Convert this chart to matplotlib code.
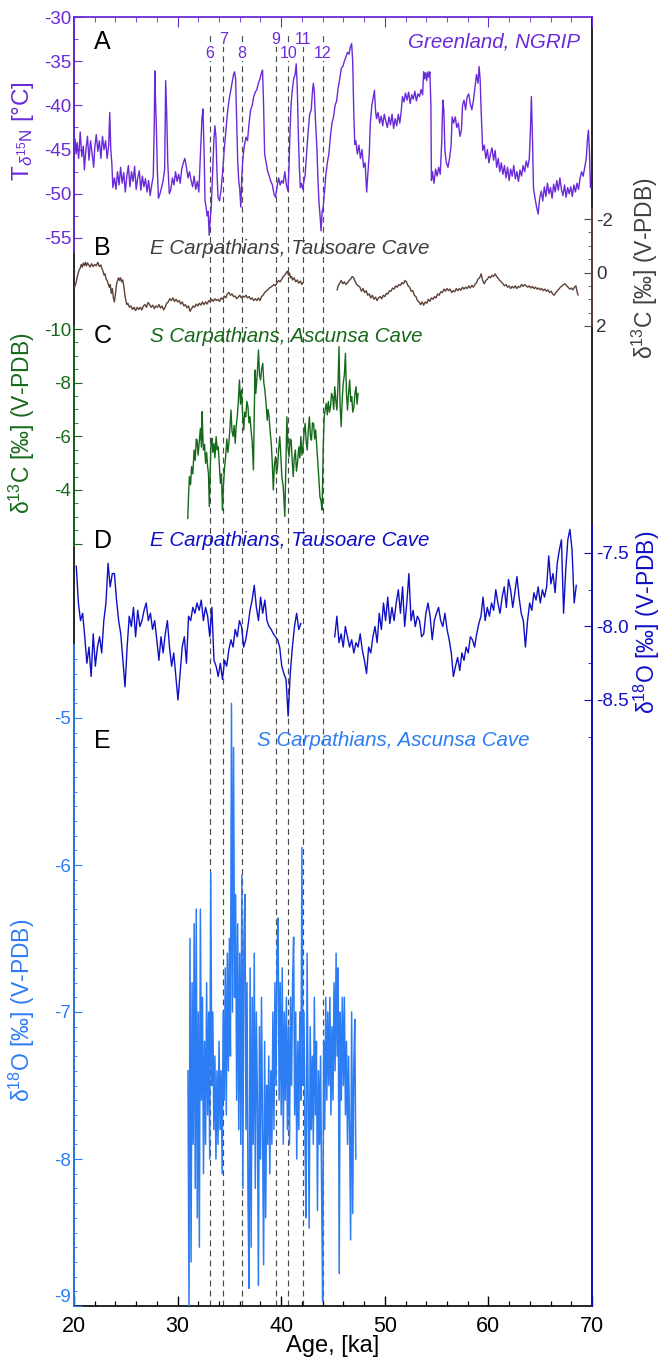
import matplotlib
matplotlib.use('Agg')
import matplotlib.pyplot as plt
from matplotlib.ticker import FixedLocator, MultipleLocator
import numpy as np

plt.rcParams['font.family'] = ['Liberation Sans', 'DejaVu Sans']
plt.rcParams['mathtext.fontset'] = 'custom'
plt.rcParams['mathtext.rm'] = 'Liberation Sans'
plt.rcParams['mathtext.it'] = 'Liberation Sans:italic'
plt.rcParams['axes.unicode_minus'] = False

# ---------------- DATA ----------------
# A: NGRIP temperature (age ka, T degC)
NGRIP = [
 (20.0,-44.5),(20.1,-43.8),(20.2,-45.5),(20.3,-44.2),(20.45,-46.0),(20.6,-43.0),(20.75,-45.8),(20.9,-44.6),
 (21.0,-47.3),(21.15,-45.0),(21.3,-43.5),(21.45,-46.2),(21.6,-44.0),(21.75,-45.5),(21.9,-47.0),(22.0,-44.8),
 (22.15,-43.3),(22.3,-45.2),(22.45,-44.0),(22.6,-46.0),(22.75,-43.5),(22.9,-45.0),(23.05,-44.0),(23.2,-46.0),
 (23.35,-44.5),(23.45,-40.8),(23.55,-45.0),(23.65,-46.5),(23.75,-49.3),(23.9,-48.2),(24.05,-49.5),(24.2,-47.5),
 (24.35,-49.0),(24.5,-47.0),(24.65,-48.8),(24.8,-47.6),(24.95,-49.8),(25.1,-48.0),(25.25,-46.8),(25.4,-49.2),
 (25.55,-47.5),(25.7,-48.6),(25.85,-46.9),(26.0,-49.5),(26.15,-48.2),(26.3,-47.4),(26.45,-49.6),(26.6,-48.0),
 (26.75,-49.2),(26.9,-48.3),(27.05,-49.8),(27.2,-48.5),(27.35,-50.2),(27.5,-49.0),(27.65,-48.0),(27.75,-42.0),
 (27.8,-36.1),(27.85,-38.5),(27.95,-42.5),(28.05,-47.5),(28.15,-50.5),(28.3,-50.0),(28.45,-49.3),(28.6,-48.5),
 (28.75,-47.2),(28.85,-37.2),(28.95,-41.0),(29.05,-46.5),(29.2,-50.0),(29.35,-49.5),(29.5,-48.2),(29.65,-49.0),
 (29.8,-47.5),(29.95,-48.6),(30.1,-47.8),(30.25,-48.8),(30.4,-47.2),(30.55,-46.5),(30.7,-46.0),(30.85,-47.0),
 (31.0,-48.2),(31.15,-47.5),(31.3,-48.5),(31.45,-49.2),(31.6,-48.0),(31.75,-49.5),(31.9,-48.6),(32.05,-49.8),
 (32.15,-47.0),(32.25,-44.0),(32.35,-41.5),(32.45,-40.4),(32.55,-45.0),(32.65,-50.8),(32.75,-51.5),(32.85,-52.5),
 (32.95,-52.0),(33.05,-54.7),(33.15,-52.8),(33.25,-51.5),(33.4,-47.0),(33.5,-44.0),(33.6,-42.3),(33.7,-43.5),
 (33.8,-47.5),(33.9,-50.4),(34.05,-50.8),(34.2,-49.5),(34.35,-47.5),(34.5,-45.0),(34.65,-43.0),(34.8,-41.0),
 (34.95,-39.5),(35.1,-38.5),(35.25,-37.5),(35.4,-36.5),(35.5,-36.2),(35.6,-37.0),(35.7,-41.5),(35.8,-46.3),
 (35.9,-48.5),(36.0,-49.5),(36.1,-51.5),(36.2,-48.0),(36.3,-46.0),(36.45,-44.5),(36.6,-43.6),(36.75,-44.0),
 (36.9,-42.0),(37.05,-40.5),(37.2,-40.0),(37.35,-39.0),(37.5,-38.5),(37.65,-38.2),(37.8,-37.5),(37.95,-37.0),
 (38.1,-36.3),(38.2,-36.0),(38.3,-40.0),(38.4,-45.5),(38.55,-46.5),(38.7,-47.5),(38.85,-48.0),(39.0,-48.6),
 (39.15,-49.0),(39.3,-50.0),(39.45,-50.4),(39.6,-49.2),(39.75,-48.2),(39.9,-49.0),(40.05,-48.5),(40.2,-48.8),
 (40.35,-47.5),(40.5,-49.0),(40.65,-49.7),(40.75,-47.0),(40.85,-43.0),(40.95,-40.0),(41.05,-38.5),(41.2,-37.0),
 (41.35,-36.5),(41.45,-35.3),(41.55,-38.0),(41.65,-43.0),(41.75,-47.0),(41.85,-49.3),(41.95,-48.8),(42.1,-49.5),
 (42.2,-48.5),(42.3,-48.0),(42.45,-45.5),(42.6,-43.0),(42.75,-41.0),(42.9,-40.5),(43.0,-38.7),(43.1,-37.5),
 (43.2,-38.5),(43.3,-41.5),(43.45,-45.0),(43.55,-48.5),(43.65,-51.0),(43.75,-52.5),(43.85,-54.2),(43.95,-52.0),
 (44.05,-51.5),(44.2,-49.5),(44.3,-48.0),(44.45,-46.5),(44.6,-45.5),(44.75,-43.5),(44.9,-42.0),(45.05,-41.3),
 (45.2,-40.0),(45.35,-39.5),(45.5,-38.0),(45.65,-37.0),(45.8,-35.8),(45.95,-35.6),(46.1,-35.0),(46.25,-34.5),
 (46.4,-34.0),(46.55,-34.2),(46.65,-33.5),(46.8,-33.0),(46.9,-35.0),(47.0,-40.5),(47.1,-44.4),(47.2,-44.0),
 (47.35,-45.5),(47.5,-44.5),(47.65,-46.0),(47.8,-45.0),(47.95,-47.0),(48.1,-46.5),(48.25,-49.8),(48.35,-48.0),
 (48.5,-45.5),(48.6,-42.1),(48.75,-40.0),(49.0,-38.3),(49.1,-40.5),(49.2,-41.5),(49.35,-40.8),(49.5,-42.0),
 (49.65,-41.2),(49.8,-42.3),(49.95,-41.0),(50.1,-41.8),(50.25,-42.5),(50.4,-41.3),(50.55,-42.2),(50.7,-41.0),
 (50.85,-42.6),(51.0,-41.5),(51.15,-42.3),(51.3,-41.0),(51.45,-42.0),(51.6,-40.5),(51.7,-39.0),(51.85,-39.6),
 (52.0,-38.6),(52.15,-39.4),(52.3,-38.5),(52.45,-39.8),(52.6,-38.8),(52.75,-39.3),(52.9,-38.4),(53.05,-39.5),
 (53.2,-38.7),(53.35,-39.0),(53.5,-38.2),(53.65,-38.8),(53.75,-36.2),(53.85,-37.0),(53.95,-36.3),(54.05,-37.2),
 (54.15,-36.2),(54.25,-36.8),(54.35,-36.2),(54.45,-40.0),(54.5,-48.5),(54.6,-47.5),(54.75,-48.8),(54.9,-47.2),
 (55.05,-48.0),(55.2,-47.0),(55.35,-47.8),(55.5,-44.0),(55.6,-39.4),(55.7,-40.5),(55.8,-45.1),(55.95,-46.5),
 (56.1,-47.0),(56.25,-46.0),(56.4,-44.5),(56.5,-41.3),(56.65,-42.0),(56.8,-41.3),(56.95,-42.5),(57.1,-42.0),
 (57.25,-43.5),(57.4,-42.8),(57.5,-40.0),(57.65,-39.4),(57.8,-40.5),(57.95,-39.0),(58.1,-38.7),(58.25,-39.8),
 (58.4,-40.5),(58.55,-39.5),(58.7,-38.0),(58.85,-36.5),(59.0,-37.5),(59.1,-35.6),(59.2,-37.0),(59.3,-40.6),
 (59.45,-45.1),(59.6,-44.5),(59.75,-46.0),(59.9,-45.0),(60.05,-46.5),(60.2,-45.5),(60.35,-44.8),(60.5,-46.2),
 (60.65,-45.1),(60.8,-47.0),(60.95,-46.0),(61.1,-47.5),(61.25,-46.5),(61.4,-47.8),(61.55,-46.8),(61.7,-48.2),
 (61.85,-47.0),(62.0,-48.5),(62.15,-47.2),(62.3,-48.0),(62.45,-46.8),(62.6,-48.3),(62.75,-47.5),(62.9,-48.6),
 (63.05,-47.3),(63.2,-48.0),(63.35,-46.8),(63.5,-47.5),(63.65,-46.3),(63.8,-47.0),(63.95,-46.0),(64.05,-43.0),
 (64.15,-39.0),(64.25,-43.5),(64.35,-49.3),(64.5,-50.5),(64.65,-51.5),(64.8,-52.3),(64.95,-50.5),(65.1,-49.7),
 (65.25,-50.8),(65.4,-49.2),(65.55,-50.3),(65.7,-48.8),(65.85,-50.0),(66.0,-49.3),(66.15,-50.5),(66.3,-48.9),
 (66.45,-49.8),(66.6,-48.5),(66.75,-49.6),(66.9,-48.2),(67.05,-49.5),(67.2,-50.2),(67.35,-49.0),(67.5,-50.4),
 (67.65,-49.3),(67.8,-50.0),(67.95,-49.2),(68.1,-50.3),(68.25,-49.0),(68.4,-49.8),(68.55,-48.8),(68.7,-49.5),
 (68.85,-48.2),(69.0,-47.5),(69.15,-48.0),(69.3,-47.0),(69.45,-46.0),(69.55,-44.0),(69.65,-42.8),(69.75,-45.0),
 (69.85,-49.3),(70.0,-49.3),
]

# B: Tausoare Cave d13C (two segments)
TAU_C13_SEG1 = [
 (20.0,0.6),(20.1,0.5),(20.2,0.38),(20.35,0.1),(20.5,-0.1),(20.6,-0.16),(20.7,-0.3),(20.8,-0.2),(20.9,-0.35),
 (21.0,-0.26),(21.1,-0.38),(21.2,-0.25),(21.3,-0.36),(21.4,-0.3),(21.55,-0.2),(21.7,-0.33),(21.85,-0.22),
 (22.0,-0.3),(22.15,-0.25),(22.3,-0.38),(22.45,-0.22),(22.6,-0.28),(22.7,-0.14),(22.8,-0.05),(22.9,0.1),
 (23.0,0.05),(23.1,0.25),(23.2,0.3),(23.3,0.42),(23.4,0.55),(23.5,0.45),(23.6,0.78),(23.7,0.6),(23.8,0.95),
 (23.9,1.1),(24.0,0.8),(24.1,0.45),(24.2,0.3),(24.3,0.2),(24.4,0.3),(24.5,0.2),(24.6,0.35),(24.7,0.28),
 (24.8,0.5),(24.9,0.8),(25.0,1.05),(25.1,1.2),(25.2,1.15),(25.35,1.3),(25.5,1.25),(25.65,1.38),(25.8,1.3),
 (25.95,1.42),(26.1,1.3),(26.25,1.38),(26.4,1.3),(26.55,1.4),(26.7,1.25),(26.85,1.2),(27.0,1.3),(27.15,1.12),
 (27.3,1.2),(27.45,1.3),(27.6,1.22),(27.75,1.35),(27.9,1.25),(28.05,1.3),(28.2,1.2),(28.35,1.33),(28.5,1.25),
 (28.65,1.4),(28.8,1.3),(28.95,1.15),(29.1,1.1),(29.25,0.98),(29.4,1.05),(29.55,0.95),(29.7,1.08),(29.85,1.0),
 (30.0,1.1),(30.15,1.05),(30.3,1.18),(30.45,1.1),(30.6,1.25),(30.75,1.2),(30.9,1.32),(31.05,1.25),(31.2,1.45),
 (31.35,1.35),(31.5,1.25),(31.65,1.3),(31.8,1.18),(31.95,1.25),(32.1,1.15),(32.25,1.22),(32.4,1.1),(32.55,1.2),
 (32.7,1.1),(32.85,1.18),(33.0,1.05),(33.15,1.1),(33.3,1.0),(33.45,1.08),(33.6,0.98),(33.75,1.05),(33.9,1.0),
 (34.05,1.08),(34.2,0.95),(34.35,1.0),(34.5,0.88),(34.65,0.95),(34.8,0.8),(34.95,0.75),(35.1,0.85),(35.25,0.8),
 (35.4,0.9),(35.55,0.88),(35.7,0.98),(35.85,0.92),(36.0,0.85),(36.15,0.95),(36.3,0.88),(36.45,0.92),(36.6,0.85),
 (36.75,0.95),(36.9,0.9),(37.05,1.0),(37.2,0.95),(37.35,1.05),(37.5,0.98),(37.65,1.05),(37.8,0.95),(37.95,1.05),
 (38.1,0.9),(38.25,0.85),(38.4,0.75),(38.55,0.7),(38.7,0.65),(38.85,0.58),(39.0,0.55),(39.15,0.5),(39.3,0.45),
 (39.45,0.5),(39.6,0.38),(39.75,0.3),(39.9,0.35),(40.05,0.25),(40.2,0.15),(40.35,0.1),(40.5,0.0),(40.6,-0.05),
 (40.7,0.1),(40.8,0.02),(40.9,0.2),(41.0,0.15),(41.1,0.28),(41.25,0.2),(41.4,0.35),(41.55,0.28),(41.7,0.4),
 (41.85,0.32),(42.0,0.45),(42.1,0.38),
]
TAU_C13_SEG2 = [
 (45.4,0.65),(45.5,0.5),(45.65,0.4),(45.8,0.3),(45.95,0.42),(46.1,0.35),(46.25,0.45),(46.4,0.38),(46.55,0.3),
 (46.7,0.25),(46.85,0.15),(47.0,0.2),(47.15,0.35),(47.3,0.45),(47.45,0.5),(47.6,0.55),(47.75,0.7),(47.9,0.6),
 (48.05,0.75),(48.2,0.68),(48.35,0.85),(48.5,0.8),(48.65,0.95),(48.8,0.85),(48.95,1.0),(49.1,0.92),(49.25,1.05),
 (49.4,0.95),(49.55,0.9),(49.7,0.98),(49.85,0.85),(50.0,0.9),(50.15,0.78),(50.3,0.8),(50.45,0.68),(50.6,0.7),
 (50.75,0.58),(50.9,0.62),(51.05,0.5),(51.2,0.55),(51.35,0.45),(51.5,0.48),(51.65,0.38),(51.8,0.42),(51.95,0.3),
 (52.1,0.36),(52.25,0.5),(52.4,0.55),(52.55,0.7),(52.7,0.68),(52.85,0.85),(53.0,0.9),(53.15,1.05),(53.3,1.1),
 (53.45,1.2),(53.6,1.1),(53.75,1.22),(53.9,1.1),(54.05,1.15),(54.2,1.0),(54.35,1.08),(54.5,0.95),(54.65,1.0),
 (54.8,0.9),(54.95,0.95),(55.1,0.8),(55.25,0.85),(55.4,0.72),(55.55,0.75),(55.7,0.62),(55.85,0.7),(56.0,0.6),
 (56.15,0.68),(56.3,0.62),(56.45,0.75),(56.6,0.68),(56.75,0.72),(56.9,0.6),(57.05,0.68),(57.2,0.6),(57.35,0.66),
 (57.5,0.55),(57.65,0.62),(57.8,0.55),(57.95,0.6),(58.1,0.5),(58.25,0.58),(58.4,0.48),(58.55,0.55),(58.7,0.45),
 (58.85,0.38),(59.0,0.25),(59.15,0.2),(59.3,0.05),(59.45,0.3),(59.6,0.42),(59.75,0.3),(59.9,0.25),(60.05,0.15),
 (60.2,0.2),(60.35,0.1),(60.5,0.15),(60.65,0.05),(60.8,0.15),(60.95,0.22),(61.1,0.3),(61.25,0.35),(61.4,0.42),
 (61.55,0.5),(61.7,0.45),(61.85,0.55),(62.0,0.5),(62.15,0.6),(62.3,0.52),(62.45,0.58),(62.6,0.5),(62.75,0.6),
 (62.9,0.52),(63.05,0.55),(63.2,0.45),(63.35,0.52),(63.5,0.45),(63.65,0.5),(63.8,0.55),(63.95,0.5),(64.1,0.58),
 (64.25,0.52),(64.4,0.6),(64.55,0.55),(64.7,0.62),(64.85,0.58),(65.0,0.65),(65.15,0.6),(65.3,0.68),(65.45,0.62),
 (65.6,0.7),(65.75,0.65),(65.9,0.75),(66.05,0.7),(66.2,0.8),(66.35,0.85),(66.5,0.75),(66.65,0.7),(66.8,0.62),
 (66.95,0.55),(67.1,0.5),(67.25,0.45),(67.4,0.42),(67.55,0.5),(67.7,0.55),(67.85,0.62),(68.0,0.58),(68.15,0.65),
 (68.3,0.55),(68.45,0.5),(68.55,0.7),(68.65,0.84),
]

# C: Ascunsa Cave d13C
ASC_C13 = [
 (30.98,-2.94),(31.06,-3.8),(31.14,-4.5),(31.25,-4.2),(31.35,-4.87),(31.47,-4.6),(31.59,-5.49),(31.7,-5.1),
 (31.8,-5.9),(31.88,-5.86),(31.98,-5.3),(32.08,-5.74),(32.2,-6.3),(32.3,-5.6),(32.37,-6.92),(32.43,-6.1),
 (32.49,-5.49),(32.6,-5.7),(32.7,-4.99),(32.8,-5.4),(32.9,-4.87),(32.98,-4.6),(33.06,-3.38),(33.15,-4.8),
 (33.22,-5.7),(33.31,-5.93),(33.4,-5.4),(33.51,-5.74),(33.6,-5.2),(33.72,-5.99),(33.82,-5.5),(33.92,-5.61),
 (34.02,-5.0),(34.13,-4.25),(34.23,-4.6),(34.33,-3.25),(34.43,-4.2),(34.54,-4.87),(34.65,-5.3),(34.75,-5.9),
 (34.85,-5.4),(34.95,-5.74),(35.05,-6.3),(35.15,-6.98),(35.25,-6.2),(35.36,-5.99),(35.46,-6.4),(35.56,-5.74),
 (35.66,-6.4),(35.76,-6.73),(35.86,-7.3),(35.97,-8.1),(36.07,-7.2),(36.17,-7.73),(36.28,-6.8),(36.38,-6.24),
 (36.48,-6.9),(36.58,-6.73),(36.68,-7.3),(36.79,-7.11),(36.89,-6.5),(36.99,-6.73),(37.1,-6.2),(37.2,-5.8),
 (37.32,-4.75),(37.4,-6.9),(37.48,-8.47),(37.55,-7.6),(37.6,-7.85),(37.7,-8.4),(37.81,-9.22),(37.9,-8.3),
 (38.01,-8.1),(38.1,-8.5),(38.22,-8.72),(38.32,-8.0),(38.42,-7.73),(38.54,-7.23),(38.65,-6.6),(38.73,-7.0),
 (38.83,-6.73),(38.93,-6.2),(39.04,-5.74),(39.14,-5.0),(39.24,-4.0),(39.34,-4.9),(39.45,-5.24),(39.55,-4.6),
 (39.65,-4.87),(39.75,-5.5),(39.86,-5.99),(39.96,-5.3),(40.06,-4.5),(40.2,-4.1),(40.35,-3.01),(40.45,-4.8),
 (40.55,-6.73),(40.65,-5.6),(40.76,-5.24),(40.86,-5.9),(40.96,-5.86),(41.06,-5.1),(41.16,-4.5),(41.26,-5.2),
 (41.37,-5.49),(41.47,-4.7),(41.57,-4.99),(41.7,-5.6),(41.8,-5.2),(41.9,-5.99),(42.0,-5.3),(42.1,-5.61),
 (42.2,-6.1),(42.31,-6.48),(42.41,-5.8),(42.51,-5.49),(42.61,-6.2),(42.72,-6.73),(42.82,-6.0),(42.92,-5.86),
 (43.02,-6.5),(43.13,-6.48),(43.23,-5.9),(43.33,-6.24),(43.44,-5.6),(43.54,-4.99),(43.64,-4.4),(43.74,-3.75),
 (43.84,-3.6),(43.95,-3.25),(44.05,-5.5),(44.15,-6.73),(44.25,-7.0),(44.35,-7.23),(44.45,-6.8),(44.55,-7.3),
 (44.66,-6.9),(44.76,-7.11),(44.86,-7.6),(44.97,-7.48),(45.07,-7.0),(45.17,-7.85),(45.28,-7.3),(45.38,-6.98),
 (45.48,-7.9),(45.58,-9.34),(45.68,-7.2),(45.79,-6.36),(45.89,-7.4),(45.99,-7.98),(46.1,-8.3),(46.2,-9.09),
 (46.3,-7.6),(46.4,-6.98),(46.5,-7.6),(46.61,-8.1),(46.71,-7.3),(46.81,-7.48),(46.91,-6.9),(47.02,-7.11),
 (47.12,-7.6),(47.22,-7.85),(47.32,-7.2),(47.42,-7.6),
]

# D: Tausoare Cave d18O, evenly sampled segments
TAU_O18_STEP = 0.2045
TAU_O18_SEG1_START = 20.22
TAU_O18_SEG1 = [
 -7.59,-7.84,-7.96,-7.91,-8.07,-8.25,-8.14,-8.34,-8.05,-8.27,
 -8.14,-8.07,-8.18,-7.96,-7.84,-7.57,-7.73,-7.64,-7.64,-7.82,
 -7.96,-8.05,-8.23,-8.41,-8.14,-7.93,-8.00,-7.87,-8.07,-7.89,
 -8.00,-7.96,-7.89,-7.84,-7.96,-7.91,-8.02,-7.96,-8.09,-8.23,
 -8.07,-8.18,-8.05,-7.96,-8.14,-8.27,-8.18,-8.34,-8.50,-8.32,
 -8.14,-8.07,-8.25,-7.93,-7.96,-7.87,-7.91,-7.84,-7.89,-7.82,
 -7.96,-7.87,-7.93,-8.07,-7.87,-8.23,-8.27,-8.34,-8.25,-8.36,
 -8.23,-8.27,-8.16,-8.09,-8.14,-8.02,-8.07,-7.96,-8.00,-8.14,
 -8.09,-8.00,-7.89,-7.82,-7.72,-7.87,-7.96,-7.80,-7.91,-7.82,
 -7.96,-8.00,-8.02,-8.05,-8.07,-8.09,-8.14,-8.27,-8.32,-8.36,
 -8.61,-8.32,-8.14,-8.00,-7.91,-8.02,-7.98,
]
TAU_O18_SEG2_START = 45.17
TAU_O18_SEG2 = [
 -8.07,-7.93,-8.11,-8.05,-8.14,-8.00,-8.07,-8.14,-8.09,-8.18,
 -8.11,-8.14,-8.05,-8.16,-8.23,-8.32,-8.14,-8.18,-8.07,-8.00,
 -8.11,-7.91,-8.02,-7.84,-7.96,-7.80,-7.98,-7.87,-7.96,-7.84,
 -7.75,-7.91,-7.73,-8.00,-7.84,-7.64,-7.96,-7.89,-8.00,-7.93,
 -7.96,-8.07,-8.05,-7.91,-7.84,-7.93,-8.09,-7.96,-7.91,-7.87,
 -7.96,-8.00,-7.91,-8.02,-8.09,-8.18,-8.34,-8.27,-8.21,-8.30,
 -8.18,-8.23,-8.14,-8.18,-8.07,-8.09,-8.14,-8.05,-7.98,-7.93,
 -7.80,-7.96,-7.87,-7.93,-7.84,-7.89,-7.75,-7.84,-7.91,-7.80,
 -7.73,-7.87,-7.68,-7.75,-7.87,-7.77,-7.66,-7.80,-7.91,-7.96,
 -8.14,-7.96,-7.84,-7.89,-7.77,-7.82,-7.73,-7.84,-7.75,-7.80,
 -7.73,-7.52,-7.71,-7.64,-7.77,-7.57,-7.48,-7.41,-7.91,-7.62,
 -7.41,-7.34,-7.48,-7.84,-7.72,
]

# E: Ascunsa Cave d18O, evenly sampled
ASC_O18_START = 31.0
ASC_O18_STEP = 0.1
ASC_O18 = [
 -7.4,-9.0,-6.5,-8.7,-6.8,-7.9,-6.4,-8.2,-6.3,-8.4,
 -7.0,-8.6,-6.3,-7.6,-6.9,-8.1,-7.2,-7.9,-6.8,-7.7,
 -7.0,-8.0,-6.05,-7.5,-7.0,-7.8,-7.3,-8.0,-7.4,-7.9,
 -7.2,-7.8,-7.4,-8.1,-7.0,-7.6,-6.7,-7.7,-6.6,-7.4,
 -6.5,-7.3,-4.9,-7.0,-5.2,-6.9,-6.2,-7.6,-6.4,-7.8,
 -6.6,-7.9,-6.07,-8.2,-6.5,-6.2,-7.8,-6.8,-8.3,-8.88,
 -6.7,-8.6,-6.9,-7.9,-6.6,-8.2,-7.0,-7.6,-8.86,-7.1,
 -8.0,-6.9,-7.8,-8.72,-7.2,-8.4,-7.5,-7.9,-7.3,-8.1,
 -7.4,-7.9,-7.0,-7.8,-6.8,-7.5,-6.6,-6.36,-7.6,-6.8,
 -7.7,-6.7,-7.9,-7.0,-7.6,-6.9,-7.8,-7.1,-7.9,-6.9,
 -7.5,-6.8,-6.49,-7.7,-7.0,-8.0,-7.2,-7.8,-7.0,-7.6,
 -5.88,-7.5,-7.0,-7.9,-8.4,-6.6,-7.6,-8.47,-7.1,-7.8,
 -7.3,-7.9,-6.9,-7.7,-7.2,-8.35,-7.4,-7.9,-7.3,-8.2,
 -8.97,-7.2,-7.8,-6.9,-7.6,-7.0,-7.5,-6.9,-7.7,-7.1,
 -7.6,-6.8,-7.4,-6.6,-7.3,-6.7,-8.78,-7.0,-7.6,-6.9,
 -7.5,-6.9,-7.7,-7.2,-7.9,-7.3,-7.8,-8.55,-7.0,-8.37,
 -7.4,-7.05,-8.0,
]

# Interstadial markers
GI_AGES = [33.1, 34.4, 36.2, 39.5, 40.7, 42.1, 44.0]
GI_LABELS = ['6', '7', '8', '9', '10', '11', '12']

# ---------------- STYLE ----------------
PURPLE = '#6a2ad8'
BROWN = '#5d4237'
GRAY = '#404040'
GREEN = '#16691a'
BLUE_D = '#0f0fc6'
BLUE_E = '#2c7cf4'

TICK_FS = 13.5
LABEL_FS = 16.5
SITE_FS = 14.8

W, H = 661, 1364
fig = plt.figure(figsize=(W / 100, H / 100), dpi=100)
X0, X1 = 74, 592
YT, YB = 17, 1306


def fx(p):
    return p / W


def fy(p):
    return 1 - p / H


def panel(ytop, ybot, cal):
    (p1, v1), (p2, v2) = cal
    k = (v2 - v1) / (p2 - p1)
    vtop = v1 + (ytop - p1) * k
    vbot = v1 + (ybot - p1) * k
    ax = fig.add_axes([fx(X0), fy(ybot), (X1 - X0) / W, (ybot - ytop) / H])
    ax.set_xlim(20, 70)
    ax.set_ylim(vbot, vtop)
    ax.patch.set_visible(False)
    for s in ax.spines.values():
        s.set_visible(False)
    ax.tick_params(axis='x', which='both', bottom=False, top=False,
                   labelbottom=False, labeltop=False)
    return ax


# frame axes
frame = fig.add_axes([fx(X0), fy(YB), (X1 - X0) / W, (YB - YT) / H])
frame.set_xlim(20, 70)
frame.set_ylim(0, 1)
frame.set_yticks([])
for s in frame.spines.values():
    s.set_linewidth(1.2)
    s.set_color('black')
frame.spines['top'].set_visible(False)
frame.xaxis.set_major_locator(MultipleLocator(10))
frame.xaxis.set_minor_locator(MultipleLocator(2))
frame.tick_params(axis='x', which='major', direction='in', length=7, width=1.0,
                  labelsize=15.5, pad=7, top=False)
frame.tick_params(axis='x', which='minor', direction='in', length=3.5, width=0.9, top=False)
frame.set_xlabel('Age, [ka]', fontsize=17, labelpad=-1)

# dashed lines
for a in GI_AGES:
    frame.axvline(a, ymin=0, ymax=(YB - 32) / (YB - YT), color='#4a4a4a',
                  lw=0.85, ls=(0, (5, 3.5)), zorder=1)

# ---- Panel A ----
axA = panel(17, 252, [(17, -30), (238, -55)])
ng_age, ng_t = zip(*NGRIP)
axA.plot(ng_age, ng_t, color=PURPLE, lw=1.0)
axA.spines['left'].set_visible(True)
axA.spines['left'].set_color(PURPLE)
axA.spines['left'].set_linewidth(1.3)
axA.spines['top'].set_visible(True)
axA.spines['top'].set_color(PURPLE)
axA.spines['top'].set_linewidth(1.3)
axA.xaxis.set_major_locator(MultipleLocator(10))
axA.xaxis.set_minor_locator(MultipleLocator(2))
axA.tick_params(axis='x', which='major', top=True, direction='in', length=7, color=PURPLE)
axA.tick_params(axis='x', which='minor', top=True, direction='in', length=3.5, color=PURPLE)
axA.set_yticks([-30, -35, -40, -45, -50, -55])
axA.yaxis.set_minor_locator(FixedLocator([-32.5, -37.5, -42.5, -47.5, -52.5]))
axA.tick_params(axis='y', which='major', direction='in', length=6, color=PURPLE,
                labelcolor=PURPLE, labelsize=TICK_FS, pad=2)
axA.tick_params(axis='y', which='minor', direction='in', length=3, color=PURPLE)
fig.text(fx(23), fy(131), r'T$_{\delta^{15}\mathrm{N}}$ [°C]', rotation=90, color=PURPLE,
         fontsize=LABEL_FS + 1, ha='center', va='center')

# ---- Panel B ----
axB = panel(208, 326, [(219, -2), (326, 2)])
for seg in (TAU_C13_SEG1, TAU_C13_SEG2):
    a, v = zip(*seg)
    axB.plot(a, v, color=BROWN, lw=1.0)
axB.spines['right'].set_visible(True)
axB.spines['right'].set_color(BROWN)
axB.spines['right'].set_linewidth(1.3)
axB.yaxis.tick_right()
axB.set_yticks([-2, 0, 2])
axB.yaxis.set_minor_locator(FixedLocator([-1.5, -1, -0.5, 0.5, 1, 1.5]))
axB.tick_params(axis='y', which='major', direction='in', length=6, color=BROWN,
                labelcolor='#333333', labelsize=TICK_FS, pad=3)
axB.tick_params(axis='y', which='minor', direction='in', length=3, color=BROWN)
fig.text(fx(645), fy(268), r'δ$^{13}$C [‰] (V-PDB)', rotation=90, color=GRAY,
         fontsize=LABEL_FS, ha='center', va='center')

# ---- Panel C ----
axC = panel(327, 546, [(329, -10), (490, -4)])
a, v = zip(*ASC_C13)
axC.plot(a, v, color=GREEN, lw=1.0)
axC.spines['left'].set_visible(True)
axC.spines['left'].set_color(GREEN)
axC.spines['left'].set_linewidth(1.3)
axC.set_yticks([-10, -8, -6, -4, -2])
axC.set_yticklabels(['-10', '-8', '-6', '-4', ''])
axC.yaxis.set_minor_locator(MultipleLocator(0.5))
axC.tick_params(axis='y', which='major', direction='in', length=6, color=GREEN,
                labelcolor=GREEN, labelsize=TICK_FS, pad=2)
axC.tick_params(axis='y', which='minor', direction='in', length=3, color=GREEN)
fig.text(fx(22), fy(423), r'δ$^{13}$C [‰] (V-PDB)', rotation=90, color=GREEN,
         fontsize=LABEL_FS, ha='center', va='center')

# ---- Panel D ----
axD = panel(525, 1306, [(553, -7.5), (700, -8.5)])
n1 = len(TAU_O18_SEG1)
n2 = len(TAU_O18_SEG2)
axD.plot(TAU_O18_SEG1_START + TAU_O18_STEP * np.arange(n1), TAU_O18_SEG1, color=BLUE_D, lw=1.0)
axD.plot(TAU_O18_SEG2_START + TAU_O18_STEP * np.arange(n2), TAU_O18_SEG2, color=BLUE_D, lw=1.0)
axD.spines['right'].set_visible(True)
axD.spines['right'].set_color(BLUE_D)
axD.spines['right'].set_linewidth(1.3)
axD.yaxis.tick_right()
axD.set_yticks([-7.5, -8.0, -8.5])
axD.set_yticklabels(['-7.5', '-8.0', '-8.5'])
axD.yaxis.set_minor_locator(FixedLocator([-7.25, -7.75, -8.25, -8.75]))
axD.tick_params(axis='y', which='major', direction='in', length=6, color=BLUE_D,
                labelcolor=BLUE_D, labelsize=TICK_FS, pad=3)
axD.tick_params(axis='y', which='minor', direction='in', length=3, color=BLUE_D)
fig.text(fx(647), fy(622), r'δ$^{18}$O [‰] (V-PDB)', rotation=90, color=BLUE_D,
         fontsize=LABEL_FS, ha='center', va='center')

# ---- Panel E ----
axE = panel(645, 1306, [(718, -5), (1306, -9)])
nE = len(ASC_O18)
axE.plot(ASC_O18_START + ASC_O18_STEP * np.arange(nE), ASC_O18, color=BLUE_E, lw=1.1)
axE.spines['left'].set_visible(True)
axE.spines['left'].set_color(BLUE_E)
axE.spines['left'].set_linewidth(1.3)
axE.set_yticks([-5, -6, -7, -8, -9])
axE.yaxis.set_minor_locator(MultipleLocator(0.1))
axE.tick_params(axis='y', which='major', direction='in', length=6, color=BLUE_E,
                labelcolor=BLUE_E, labelsize=TICK_FS, pad=2)
axE.tick_params(axis='y', which='minor', direction='in', length=2.5, color=BLUE_E)
for lbl in axE.get_yticklabels():
    if lbl.get_text() == '-9':
        lbl.set_verticalalignment('bottom')
fig.text(fx(22), fy(1010), r'δ$^{18}$O [‰] (V-PDB)', rotation=90, color=BLUE_E,
         fontsize=LABEL_FS, ha='center', va='center')

# ---- Panel letters and site names ----
for letter, yy in (('A', 42), ('B', 248), ('C', 336), ('D', 541), ('E', 741)):
    fig.text(fx(94), fy(yy), letter, fontsize=18, color='black', ha='left', va='center')

fig.text(fx(580), fy(42), 'Greenland, NGRIP', style='italic', fontsize=SITE_FS,
         color=PURPLE, ha='right', va='center')
fig.text(fx(150), fy(248), 'E Carpathians, Tausoare Cave', style='italic', fontsize=SITE_FS,
         color=GRAY, ha='left', va='center')
fig.text(fx(150), fy(336), 'S Carpathians, Ascunsa Cave', style='italic', fontsize=SITE_FS,
         color=GREEN, ha='left', va='center')
fig.text(fx(150), fy(541), 'E Carpathians, Tausoare Cave', style='italic', fontsize=SITE_FS,
         color=BLUE_D, ha='left', va='center')
fig.text(fx(257), fy(741), 'S Carpathians, Ascunsa Cave', style='italic', fontsize=SITE_FS,
         color=BLUE_E, ha='left', va='center')

# GI numbers
for i, (a, lab) in enumerate(zip(GI_AGES, GI_LABELS)):
    yy = 39 if i % 2 == 1 else 53
    frame.text(a, (YB - yy) / (YB - YT), lab, color=PURPLE, fontsize=11.5,
               ha='center', va='center', zorder=5,
               bbox=dict(facecolor='white', edgecolor='none', pad=0.2))

fig.savefig('out.png', dpi=100)
